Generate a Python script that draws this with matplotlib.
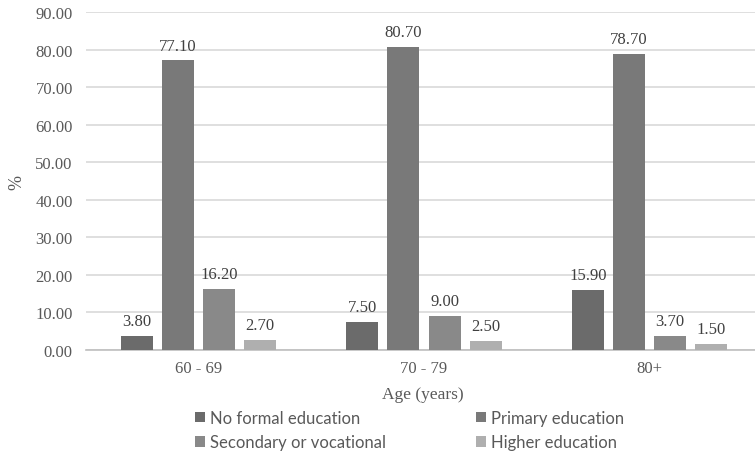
import matplotlib
matplotlib.use("Agg")
import matplotlib.pyplot as plt
import numpy as np

categories = ["60 - 69", "70 - 79", "80+"]
series_names = ["No formal education", "Primary education",
                "Secondary or vocational", "Higher education"]
no_formal = [3.80, 7.50, 15.90]
primary = [77.10, 80.70, 78.70]
secondary = [16.20, 9.00, 3.70]
higher = [2.70, 2.50, 1.50]
y_ticks = [0, 10, 20, 30, 40, 50, 60, 70, 80, 90]

series = [no_formal, primary, secondary, higher]
colors = ["#6b6b6b", "#797979", "#898989", "#afafaf"]

W, H = 755, 456
fig = plt.figure(figsize=(W / 100, H / 100), dpi=100)
ax = fig.add_axes([86 / W, 1 - 351 / H, 676 / W, 338 / H])

serif = "Liberation Serif"
text_color = "#595959"

x = np.arange(len(categories))
bar_w = 0.142
pitch = 0.182
offsets = (np.arange(4) - 1.5) * pitch

for i, (vals, col, name) in enumerate(zip(series, colors, series_names)):
    bars = ax.bar(x + offsets[i], vals, width=bar_w, color=col, label=name,
                  zorder=3)
    for b, v in zip(bars, vals):
        ax.annotate(f"{v:.2f}", (b.get_x() + b.get_width() / 2, v),
                    xytext=(0, 5), textcoords="offset points",
                    ha="center", va="bottom", fontsize=12,
                    family=serif, color="#404040")

ax.set_xlim(-0.5, len(categories) - 0.5)
ax.set_ylim(0, 90)
ax.set_yticks(y_ticks)
ax.set_yticklabels([f"{t:.2f}" for t in y_ticks], family=serif,
                   fontsize=12, color=text_color)
ax.set_xticks(x)
ax.set_xticklabels(categories, family=serif, fontsize=12, color=text_color)
ax.tick_params(axis="both", length=0)
ax.tick_params(axis="y", pad=9.5)
ax.tick_params(axis="x", pad=7)

ax.yaxis.grid(True, color="#d9d9d9", linewidth=1.2, zorder=0)
ax.set_axisbelow(True)
for s in ["top", "right", "left"]:
    ax.spines[s].set_visible(False)
ax.spines["bottom"].set_color("#bfbfbf")
ax.spines["bottom"].set_linewidth(1.2)

fig.text(17 / W, 1 - 182 / H, "%", rotation=90, ha="center", va="center",
         family=serif, fontsize=13, color=text_color)
fig.text(423 / W, 1 - 395 / H, "Age (years)", ha="center", va="center",
         family=serif, fontsize=12.5, color=text_color)

handles, labels = ax.get_legend_handles_labels()
order = [0, 2, 1, 3]
leg = fig.legend([handles[i] for i in order], [labels[i] for i in order],
                 ncol=2, loc="center", bbox_to_anchor=(410 / W, 1 - 431 / H),
                 frameon=False, handlelength=0.6, handleheight=0.6,
                 handletextpad=0.3, columnspacing=5.4, labelspacing=0.5,
                 borderpad=0, prop={"family": "Lato", "size": 12})
for t in leg.get_texts():
    t.set_color(text_color)

fig.savefig("out.png", dpi=100)
